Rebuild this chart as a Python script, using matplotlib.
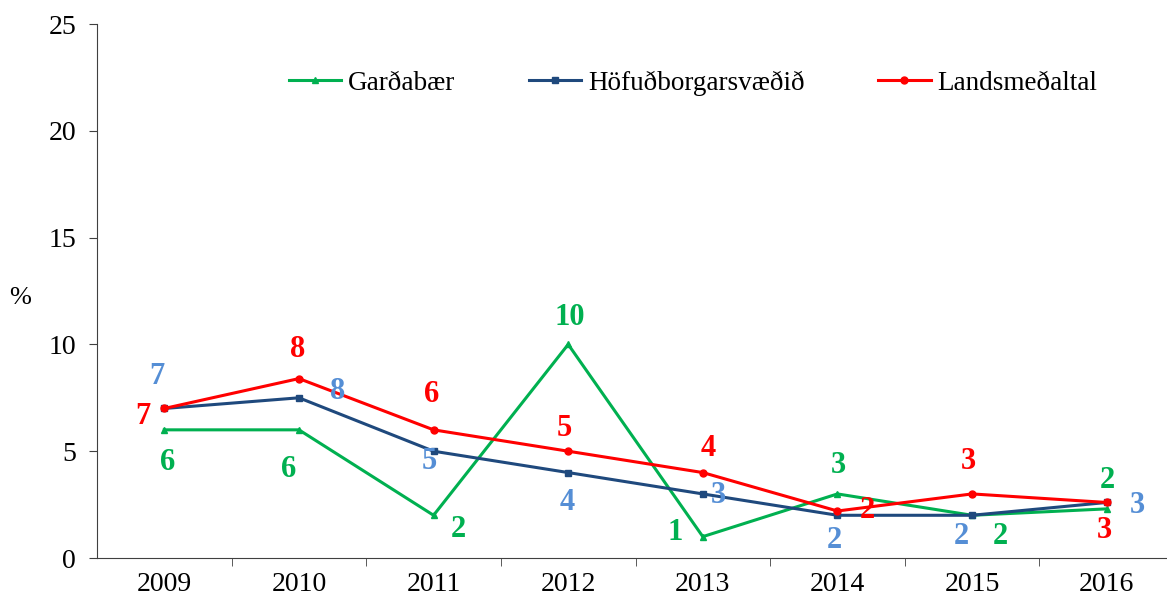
import numpy as np
import matplotlib
matplotlib.use('Agg')
import matplotlib.pyplot as plt

plt.rcParams['font.family'] = ['Liberation Serif', 'DejaVu Serif']

years = ['2009', '2010', '2011', '2012', '2013', '2014', '2015', '2016']
gardabaer = [6.0, 6.0, 2.0, 10.0, 1.0, 3.0, 2.0, 2.3]
hofudborg = [7.0, 7.5, 5.0, 4.0, 3.0, 2.0, 2.0, 2.6]
landsmedaltal = [7.0, 8.4, 6.0, 5.0, 4.0, 2.2, 3.0, 2.6]

# label offsets (pixels) for each point
off_g = [(3, -33), (-10, -40), (25, -14), (2, 27), (-28, 4), (1, 28), (28, -21), (1, 28)]
off_h = [(-7, 32), (39, 6), (-4, -10), (-1, -30), (16, -2), (-3, -25), (-11, -21), (31, -3)]
off_l = [(-21, -8), (-1, 29), (-2, 35), (-4, 23), (5, 24), (30, 1), (-4, 32), (-2, -28)]

c_green = '#00B050'
c_navy = '#1F497D'
c_blue_lbl = '#558ED5'
c_red = '#FF0000'

fig = plt.figure(figsize=(11.67, 6.02), dpi=100)
ax = fig.add_axes([97/1167, 1-558/602, (1174-97)/1167, (558-24)/602])

x = np.arange(len(years))
ax.plot(x, gardabaer, color=c_green, lw=2.2, marker='^', ms=5, label='Garðabær')
ax.plot(x, hofudborg, color=c_navy, lw=2.2, marker='s', ms=4.5, label='Höfuðborgarsvæðið')
ax.plot(x, landsmedaltal, color=c_red, lw=2.2, marker='o', ms=5, label='Landsmeðaltal')

def labels(vals, offs, col):
    for i, v in enumerate(vals):
        ax.annotate('%d' % round(v), (x[i], v), xytext=offs[i], textcoords='offset pixels',
                    ha='center', va='center', color=col, fontsize=22, fontweight='bold')

labels(gardabaer, off_g, c_green)
labels(hofudborg, off_h, c_blue_lbl)
labels(landsmedaltal, off_l, c_red)

ax.set_xlim(-0.5, 7.5)
ax.set_ylim(0, 25)
ax.set_yticks([0, 5, 10, 15, 20, 25])
ax.set_xticks(x)
ax.set_xticklabels(years)
ax.set_xticks(np.arange(0.5, 7.5, 1), minor=True)
ax.tick_params(axis='x', which='major', length=0, pad=10, labelsize=20)
ax.tick_params(axis='x', which='minor', length=6, direction='out', color='#404040')
ax.tick_params(axis='y', length=6, direction='out', pad=9, labelsize=20, color='#404040')
for s in ['top', 'right']:
    ax.spines[s].set_visible(False)
for s in ['left', 'bottom']:
    ax.spines[s].set_color('#404040')

fig.text(20/1167, 1-298/602, '%', fontsize=19, ha='center', va='center')

ax.legend(loc='center', bbox_to_anchor=((693-97)/1077, (558-83)/534), ncol=3, frameon=False,
          fontsize=19.5, handlelength=1.95, columnspacing=2.7, handletextpad=0.25)

fig.savefig('out.png', dpi=100)
